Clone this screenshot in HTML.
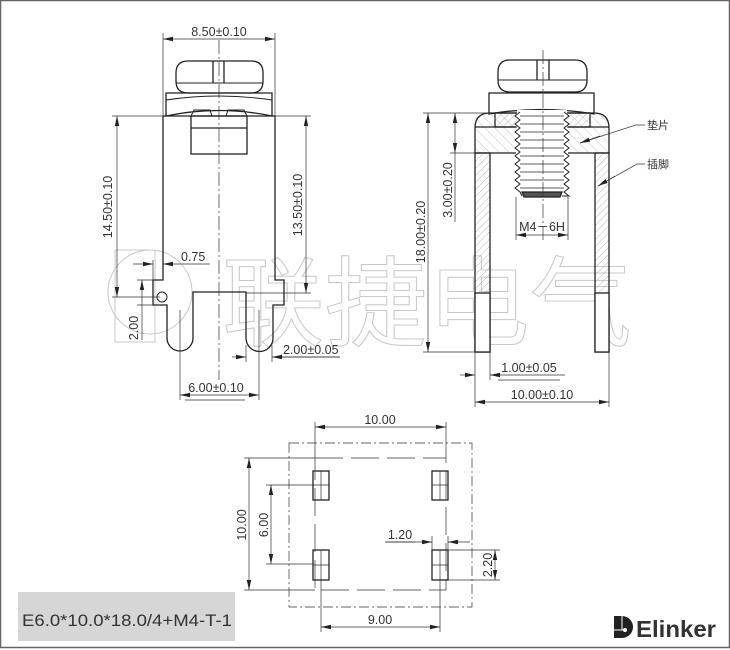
<!DOCTYPE html>
<html><head><meta charset="utf-8"><style>
html,body{margin:0;padding:0;background:#fff}
svg{display:block}
text{font-family:"Liberation Sans","Noto Sans CJK SC",sans-serif;fill:#333}
</style></head><body>
<svg width="730" height="650" viewBox="0 0 730 650" xmlns="http://www.w3.org/2000/svg">
<defs>
<marker id="a" markerWidth="10" markerHeight="6" refX="10" refY="3" orient="auto-start-reverse" markerUnits="userSpaceOnUse"><path d="M0,0.8 L10,3 L0,5.2 z" fill="#222"/></marker>
<pattern id="h" width="5" height="5" patternUnits="userSpaceOnUse" patternTransform="rotate(45)"><line x1="0" y1="0" x2="0" y2="5" stroke="#999" stroke-width="0.7"/></pattern>
<pattern id="h2" width="7" height="7" patternUnits="userSpaceOnUse" patternTransform="rotate(-45)"><line x1="0" y1="0" x2="0" y2="7" stroke="#aaa" stroke-width="0.7"/></pattern>
</defs>
<rect x="0.5" y="0.5" width="729" height="647" fill="#fff" stroke="#666" stroke-width="1.5"/>

<g fill="none" stroke="#c8c8c8" stroke-width="1">
<circle cx="150" cy="292" r="42"/>
<rect x="115" y="250" width="40" height="92"/>
<text x="222" y="338" font-size="98" style="fill:none;stroke:#c8c8c8;stroke-width:1" font-family="Noto Sans CJK SC" textLength="410" lengthAdjust="spacingAndGlyphs">联捷电气</text>
</g>

<g stroke="#222" fill="none" stroke-width="1.3">
<path d="M188,61 H251 Q263,61 263,73 V81 Q263,93 251,93 H188 Q176,93 176,81 V73 Q176,61 188,61 Z"/>
<path d="M213,61 V83 M224,61 V83"/>
<line x1="176" y1="83" x2="263" y2="83" stroke-width="1"/>
<path d="M166,93 H272 V116 Q219,105 166,116 Z"/>
<path d="M166,100 Q219,92 272,100" stroke-width="0.9"/>
<path d="M191,116 L194,110 H210 L212,116 M226,116 L228,110 H244 L247,116" stroke-width="1"/>
<rect x="191" y="116" width="56" height="38"/>
<line x1="191" y1="128" x2="247" y2="128"/>
<path d="M163,116 H275 V280 H284 V305 H273 V338 A13,13 0 0 1 246,338 V292 H193 V338 A13,13 0 0 1 167,338 V305 H153 V280 H163 Z"/>
<circle cx="162" cy="297" r="5" stroke-width="1"/>

<path d="M510,60 H575 Q587,60 587,72 V80 Q587,92 575,92 H510 Q498,92 498,80 V72 Q498,60 510,60 Z"/>
<path d="M537,60 V80 M549,60 V80"/>
<line x1="498" y1="80" x2="587" y2="80" stroke-width="1"/>
<path d="M489,93 H594 V114 Q541,105 489,114 Z"/>
<rect x="495" y="113" width="95" height="14" fill="url(#h)"/>
<path d="M475,153 V128 Q475,113 490,113 H594 Q609,113 609,128 V153 Z" fill="url(#h2)"/>
<line x1="475" y1="127" x2="609" y2="127"/>
<rect x="475" y="153" width="15" height="199" fill="url(#h)"/>
<rect x="595" y="153" width="14" height="199" fill="url(#h)"/>
<rect x="475" y="293" width="15" height="59" fill="#fff"/>
<rect x="595" y="293" width="14" height="59" fill="#fff"/>
<path d="M517,110 L515,197 H569 L567,110 Z" fill="#fff" stroke="none"/>
<path d="M520,112 l-5,4 l5,4 l-5,4 l5,4 l-5,4 l5,4 l-5,4 l5,4 l-5,4 l5,4 l-5,4 l5,4 l-5,4 l5,4 l-5,4 l5,4 l-5,4 l5,4 l-5,4 l5,4 L522,196" stroke-width="1"/>
<path d="M564,112 l5,4 l-5,4 l5,4 l-5,4 l5,4 l-5,4 l5,4 l-5,4 l5,4 l-5,4 l5,4 l-5,4 l5,4 l-5,4 l5,4 l-5,4 l5,4 l-5,4 l5,4 l-5,4 l5,4 L562,196" stroke-width="1"/>
<g stroke-width="0.7"><path d="M520,116 H564 M520,124 H564 M520,132 H564 M520,140 H564 M520,148 H564 M520,156 H564 M520,164 H564 M520,172 H564 M520,180 H564 M520,188 H564"/></g>
<path d="M522,192 H562 L560,197 H524 Z" fill="#555"/>

<rect x="313" y="471" width="16" height="29"/>
<rect x="313" y="550" width="16" height="30"/>
<rect x="432" y="471" width="16" height="29"/>
<rect x="432" y="550" width="16" height="30"/>
</g>

<g stroke="#333" fill="none" stroke-width="0.7">
<line x1="219" y1="40" x2="219" y2="380" stroke-dasharray="14,3,2,3"/>
<line x1="543" y1="50" x2="543" y2="240" stroke-dasharray="14,3,2,3"/>
<line x1="180" y1="310" x2="180" y2="400"/>
<line x1="259" y1="310" x2="259" y2="400"/>
<path d="M321,471 V500 M313,485 H329 M321,550 V580 M313,565 H329 M440,471 V500 M432,485 H448 M440,550 V580 M432,565 H448"/>
<path d="M163,33 V116 M275,33 V116"/>
<line x1="163" y1="39" x2="275" y2="39" marker-start="url(#a)" marker-end="url(#a)"/>
<path d="M112,116 H163 M112,297 H160"/>
<line x1="117" y1="116" x2="117" y2="297" marker-start="url(#a)" marker-end="url(#a)"/>
<path d="M275,116 H311 M246,293 H311"/>
<line x1="306" y1="116" x2="306" y2="293" marker-start="url(#a)" marker-end="url(#a)"/>
<line x1="133" y1="264" x2="153" y2="264" marker-end="url(#a)"/>
<line x1="210" y1="264" x2="163" y2="264" marker-end="url(#a)"/>
<path d="M153,260 V280 M137,280 H153 M137,305 H153"/>
<line x1="142" y1="340" x2="142" y2="280" marker-end="url(#a)"/>
<path d="M180,395 H259" marker-start="url(#a)" marker-end="url(#a)"/>
<path d="M246,345 V362 M272,345 V362"/>
<line x1="232" y1="357" x2="246" y2="357" marker-end="url(#a)"/>
<line x1="340" y1="357" x2="272" y2="357" marker-end="url(#a)"/>
<path d="M423,113 H490 M423,352 H475"/>
<line x1="428" y1="113" x2="428" y2="352" marker-start="url(#a)" marker-end="url(#a)"/>
<path d="M450,153 H475"/>
<line x1="455" y1="113" x2="455" y2="153" marker-start="url(#a)" marker-end="url(#a)"/>
<line x1="455" y1="153" x2="455" y2="222"/>
<path d="M516,197 V240 M568,197 V240"/>
<line x1="516" y1="235" x2="568" y2="235" marker-start="url(#a)" marker-end="url(#a)"/>
<path d="M475,352 V407 M490,352 V380 M609,352 V407"/>
<line x1="460" y1="375" x2="475" y2="375" marker-end="url(#a)"/>
<line x1="565" y1="375" x2="490" y2="375" marker-end="url(#a)"/>
<line x1="475" y1="402" x2="609" y2="402" marker-start="url(#a)" marker-end="url(#a)"/>
<path d="M645,125 H636 L580,143" />
<line x1="600" y1="136" x2="580" y2="143" marker-end="url(#a)"/>
<path d="M645,164 H637 L598,186"/>
<line x1="615" y1="176" x2="598" y2="186" marker-end="url(#a)"/>
<rect x="289" y="443" width="183" height="164" stroke-dasharray="10,3,2,3"/>
<rect x="315" y="458" width="131" height="132" stroke-dasharray="28,8"/>
<path d="M315,422 V458 M446,422 V458"/>
<line x1="315" y1="427" x2="446" y2="427" marker-start="url(#a)" marker-end="url(#a)"/>
<path d="M244,458 H315 M244,590 H315"/>
<line x1="249" y1="458" x2="249" y2="590" marker-start="url(#a)" marker-end="url(#a)"/>
<path d="M266,485 H313 M266,564 H313"/>
<line x1="271" y1="485" x2="271" y2="564" marker-start="url(#a)" marker-end="url(#a)"/>
<path d="M321,580 V632 M440,580 V632"/>
<line x1="321" y1="627" x2="440" y2="627" marker-start="url(#a)" marker-end="url(#a)"/>
<path d="M432,536 V550 M448,536 V550"/>
<line x1="386" y1="542" x2="432" y2="542" marker-end="url(#a)"/>
<line x1="470" y1="542" x2="448" y2="542" marker-end="url(#a)"/>
<path d="M448,550 H500 M448,580 H500"/>
<line x1="495" y1="550" x2="495" y2="580" marker-start="url(#a)" marker-end="url(#a)"/>
<path d="M185,400 H245 M282,357 H340 M498,380 H560 M385,542 H415"/>
</g>

<g font-size="12.5">
<text x="219" y="36" text-anchor="middle">8.50±0.10</text>
<text transform="translate(112,207) rotate(-90)" text-anchor="middle">14.50±0.10</text>
<text transform="translate(302,205) rotate(-90)" text-anchor="middle">13.50±0.10</text>
<text x="181" y="261">0.75</text>
<text transform="translate(138,328) rotate(-90)" text-anchor="middle">2.00</text>
<text x="216" y="392" text-anchor="middle">6.00±0.10</text>
<text x="283" y="354">2.00±0.05</text>
<text transform="translate(425,232) rotate(-90)" text-anchor="middle">18.00±0.20</text>
<text transform="translate(452,190) rotate(-90)" text-anchor="middle">3.00±0.20</text>
<text x="542" y="231" text-anchor="middle">M4－6H</text>
<text x="529" y="372" text-anchor="middle">1.00±0.05</text>
<text x="542" y="399" text-anchor="middle">10.00±0.10</text>
<text x="647" y="129" font-size="11">垫片</text>
<text x="647" y="168" font-size="11">插脚</text>
<text x="380" y="424" text-anchor="middle">10.00</text>
<text transform="translate(246,525) rotate(-90)" text-anchor="middle">10.00</text>
<text transform="translate(268,525) rotate(-90)" text-anchor="middle">6.00</text>
<text x="400" y="539" text-anchor="middle">1.20</text>
<text transform="translate(492,565) rotate(-90)" text-anchor="middle">2.20</text>
<text x="380" y="624" text-anchor="middle">9.00</text>
</g>

<rect x="18" y="592" width="217" height="49" fill="#d6d6d6"/>
<text x="22" y="626" font-size="17" textLength="210" lengthAdjust="spacingAndGlyphs" fill="#444">E6.0*10.0*18.0/4+M4-T-1</text>

<g fill="#222">
<path d="M614,616 H622 A11,11 0 0 1 622,638 H614 Z"/>
<circle cx="625" cy="630" r="2" fill="#fff"/>
<line x1="614" y1="630" x2="625" y2="630" stroke="#fff" stroke-width="1"/>
<line x1="622" y1="616" x2="622" y2="630" stroke="#fff" stroke-width="1"/>
<text x="636" y="637" font-size="23" font-weight="bold" fill="#222" textLength="80" lengthAdjust="spacingAndGlyphs">Elinker</text>
</g>
</svg>
</body></html>
